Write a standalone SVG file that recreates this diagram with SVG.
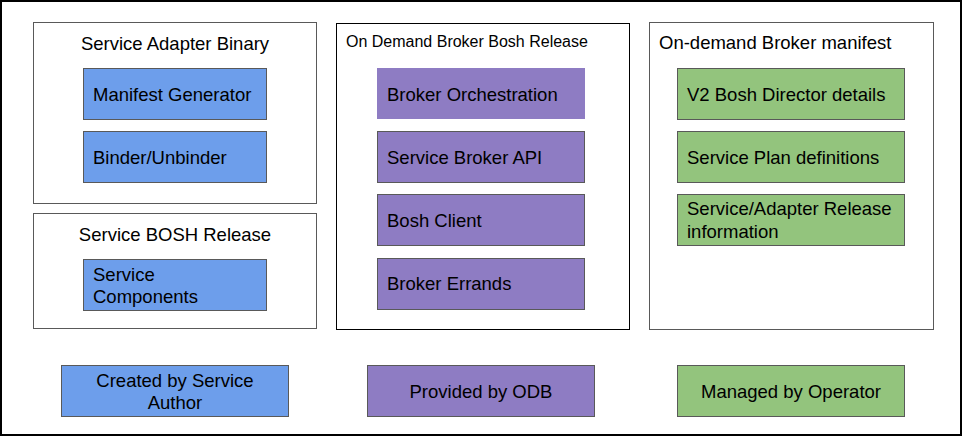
<svg xmlns="http://www.w3.org/2000/svg" width="962" height="436" viewBox="0 0 962 436">
<style>
text{font-family:"Liberation Sans",Arial,sans-serif;font-size:18.5px;fill:#000}
.t16{font-size:16px}
.mid{text-anchor:middle}
.cont{fill:#fff;stroke:#595959;stroke-width:1}
.blue{fill:#6d9eeb;stroke:#595959;stroke-width:1}
.purple{fill:#8e7cc3;stroke:#595959;stroke-width:1}
.green{fill:#93c47d;stroke:#595959;stroke-width:1}
</style>
<rect x="1" y="1" width="960" height="434" fill="#fff" stroke="#000" stroke-width="2"/>
<g id="service-adapter-binary">
<rect class="cont" x="33.5" y="22.5" width="283" height="181"/>
<text class="mid" x="175" y="50">Service Adapter Binary</text>
</g>
<g id="manifest-generator"><rect class="blue" x="83.5" y="68.5" width="183" height="51"/><text x="93" y="101">Manifest Generator</text></g>
<g id="binder-unbinder"><rect class="blue" x="83.5" y="131.5" width="183" height="51"/><text x="93" y="164">Binder/Unbinder</text></g>
<g id="service-bosh-release">
<rect class="cont" x="33.5" y="213.5" width="283" height="115"/>
<text class="mid" x="175" y="241">Service BOSH Release</text>
</g>
<g id="service-components"><rect class="blue" x="83.5" y="259.5" width="183" height="51"/><text x="93" y="281">Service</text><text x="93" y="303">Components</text></g>
<g id="odb-bosh-release">
<rect x="336.5" y="23.5" width="293" height="306" fill="#fff" stroke="#000" stroke-width="1"/>
<text class="t16" x="346" y="47">On Demand Broker Bosh Release</text>
</g>
<g id="broker-orchestration"><rect x="377" y="68" width="208" height="51" fill="#8e7cc3"/><text x="387" y="101">Broker Orchestration</text></g>
<g id="service-broker-api"><rect class="purple" x="377.5" y="131.5" width="207" height="51"/><text x="387" y="164">Service Broker API</text></g>
<g id="bosh-client"><rect class="purple" x="377.5" y="194.5" width="207" height="51"/><text x="387" y="227">Bosh Client</text></g>
<g id="broker-errands"><rect class="purple" x="377.5" y="258.5" width="207" height="51"/><text x="387" y="290">Broker Errands</text></g>
<g id="odb-manifest">
<rect class="cont" x="649.5" y="22.5" width="284" height="307"/>
<text x="659" y="49">On-demand Broker manifest</text>
</g>
<g id="v2-bosh-director"><rect class="green" x="677.5" y="68.5" width="227" height="51"/><text x="687" y="101">V2 Bosh Director details</text></g>
<g id="service-plan-definitions"><rect class="green" x="677.5" y="131.5" width="227" height="51"/><text x="687" y="164">Service Plan definitions</text></g>
<g id="release-information"><rect class="green" x="677.5" y="194.5" width="227" height="51"/><text x="687" y="215">Service/Adapter Release</text><text x="687" y="238">information</text></g>
<g id="legend-created"><rect class="blue" x="61.5" y="365.5" width="227" height="51"/><text class="mid" x="175" y="387">Created by Service</text><text class="mid" x="175" y="409">Author</text></g>
<g id="legend-provided"><rect class="purple" x="367.5" y="365.5" width="227" height="51"/><text class="mid" x="481" y="398">Provided by ODB</text></g>
<g id="legend-managed"><rect class="green" x="677.5" y="365.5" width="227" height="51"/><text class="mid" x="791" y="398">Managed by Operator</text></g>
<g id="connectors"/>
</svg>
